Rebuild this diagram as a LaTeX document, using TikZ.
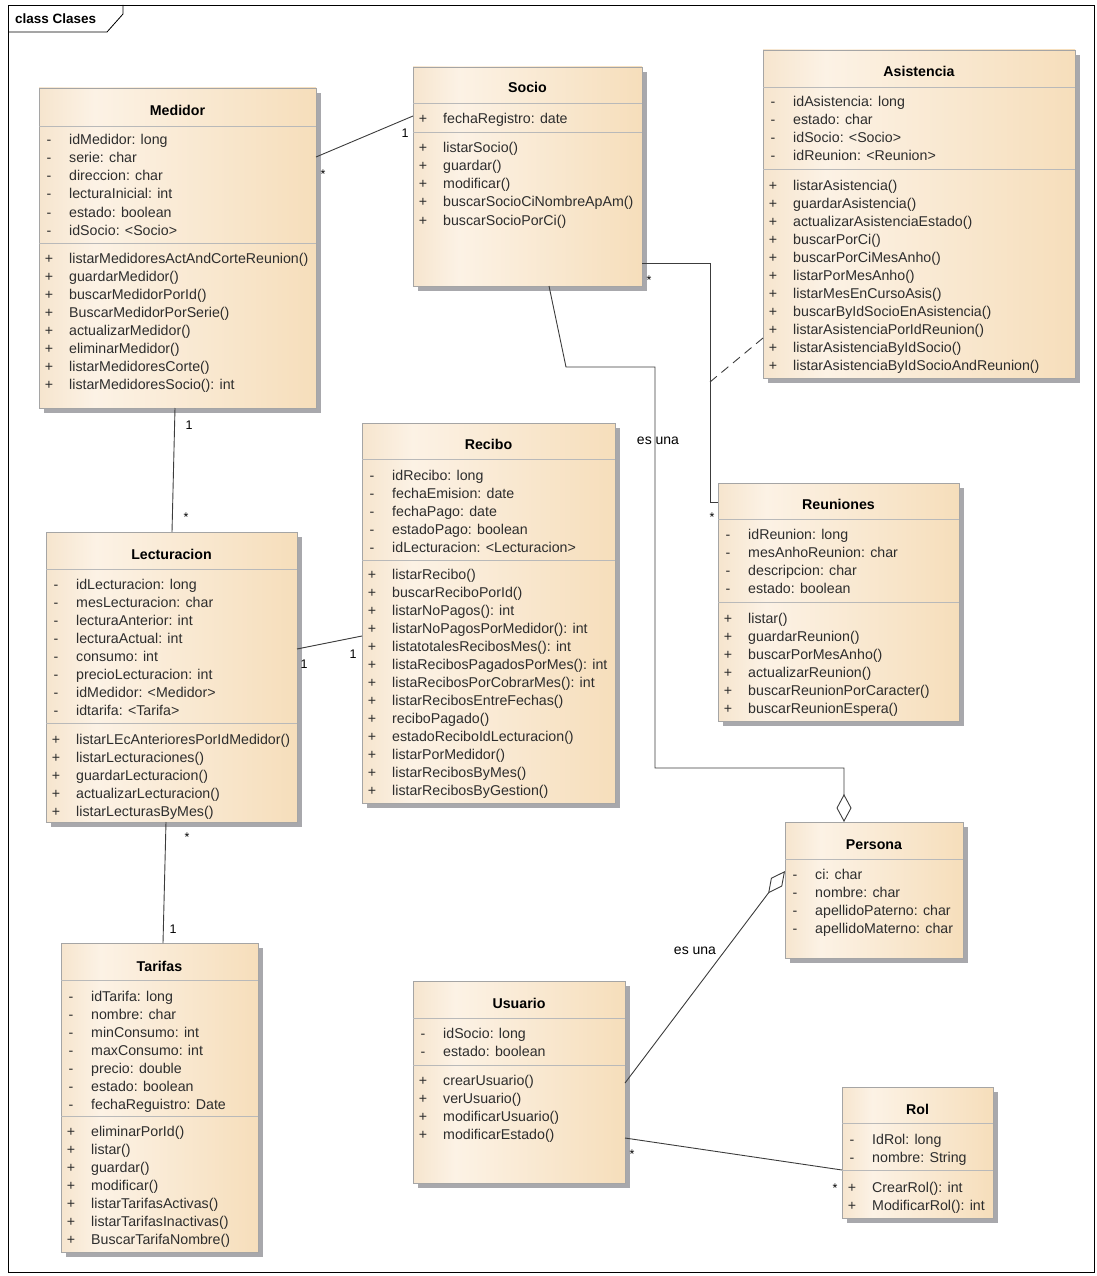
\documentclass[tikz,border=0pt]{standalone}
\usepackage{fontspec}
\setmainfont{Liberation Sans}
\usetikzlibrary{shadows,arrows.meta,calc}
\definecolor{ccL}{RGB}{246,229,206}
\definecolor{ccM}{RGB}{252,242,229}
\definecolor{ccR}{RGB}{246,222,187}
\definecolor{bordc}{RGB}{165,165,165}
\definecolor{divc}{RGB}{185,185,185}
\definecolor{shadc}{RGB}{168,168,172}
\definecolor{textc}{RGB}{45,45,45}
\definecolor{linec}{RGB}{60,60,60}
\pgfdeclarehorizontalshading{umlfill}{100bp}{color(0bp)=(ccL); color(25bp)=(ccL); color(35bp)=(ccM); color(75bp)=(ccR); color(100bp)=(ccR)}
\tikzset{
  classbox/.style={draw=bordc, line width=0.8pt, shading=umlfill, shading angle=0,
    anchor=north west, inner sep=0pt, outer sep=0pt,
    drop shadow={shadow xshift=5pt, shadow yshift=-5pt, fill=shadc, opacity=1}},
  divline/.style={draw=divc, line width=0.8pt},
  rowtext/.style={anchor=base west, inner sep=0pt, text=textc, font=\fontsize{14.2}{17}\selectfont},
  signtext/.style={anchor=base, inner sep=0pt, text=textc, font=\fontsize{14.2}{17}\selectfont},
  titletext/.style={anchor=base, inner sep=0pt, text=black, font=\bfseries\fontsize{14.2}{17}\selectfont},
  assoc/.style={draw=linec, line width=0.9pt},
  mult/.style={inner sep=0pt, text=black, font=\fontsize{12.5}{15}\selectfont},
  edgelabel/.style={inner sep=0pt, text=black, font=\fontsize{14}{17}\selectfont}
}
\newcommand{\umlrows}[4]{%
  \foreach \s/\t [count=\i, evaluate=\i as \yy using #3+18*(\i-1)] in {#4} {%
    \node[signtext] (#1-#2s\i) at ([xshift=10pt,yshift=-\yy pt]#1.north west) {\s};
    \node[rowtext] (#1-#2\i) at ([xshift=30pt,yshift=-\yy pt]#1.north west) {\t};
  }}
\newcommand{\umldiv}[2]{%
  \draw[divline] ([yshift=-#2pt]#1.north west) -- ([yshift=-#2pt]#1.north east);}
\begin{document}
\begin{tikzpicture}[x=1pt,y=-1pt]
\useasboundingbox (0,0) rectangle (1096,1276);
% frame
\draw[black, line width=0.8pt] (8,5) rectangle (1094,1272);
\draw[black, line width=0.8pt] (8,32) -- (107,32) -- (123,14) -- (123,5);
\node[anchor=west, inner sep=0pt, font=\bfseries\fontsize{13.5}{16}\selectfont] (frametitle) at (15,19) {class Clases};

% ---------- Medidor
\node[classbox, minimum width=277pt, minimum height=320pt] (medidor) at (39,88) {};
\umldiv{medidor}{38}\umldiv{medidor}{155}
\node[titletext] (medidor-title) at ([yshift=-28pt]medidor.north) {Medidor};
\umlrows{medidor}{a}{57}{-/idMedidor: long, -/serie: char, -/direccion: char, -/lecturaInicial: int, -/estado: boolean, -/idSocio: <Socio>}
\umlrows{medidor}{m}{175}{+/listarMedidoresActAndCorteReunion(), +/guardarMedidor(), +/buscarMedidorPorId(), +/BuscarMedidorPorSerie(), +/actualizarMedidor(), +/eliminarMedidor(), +/listarMedidoresCorte(), +/listarMedidoresSocio(): int}

% ---------- Socio
\node[classbox, minimum width=229pt, minimum height=219pt] (socio) at (413,67) {};
\umldiv{socio}{36}\umldiv{socio}{65}
\node[titletext] (socio-title) at ([yshift=-26pt]socio.north) {Socio};
\umlrows{socio}{a}{57}{+/fechaRegistro: date}
\umlrows{socio}{m}{86}{+/listarSocio(), +/guardar(), +/modificar(), +/buscarSocioCiNombreApAm(), +/buscarSocioPorCi()}

% ---------- Asistencia
\node[classbox, minimum width=312pt, minimum height=328pt] (asistencia) at (763,50) {};
\umldiv{asistencia}{37}\umldiv{asistencia}{119}
\node[titletext] (asistencia-title) at ([yshift=-27pt]asistencia.north) {Asistencia};
\umlrows{asistencia}{a}{57}{-/idAsistencia: long, -/estado: char, -/idSocio: <Socio>, -/idReunion: <Reunion>}
\umlrows{asistencia}{m}{140}{+/listarAsistencia(), +/guardarAsistencia(), +/actualizarAsistenciaEstado(), +/buscarPorCi(), +/buscarPorCiMesAnho(), +/listarPorMesAnho(), +/listarMesEnCursoAsis(), +/buscarByIdSocioEnAsistencia(), +/listarAsistenciaPorIdReunion(), +/listarAsistenciaByIdSocio(), +/listarAsistenciaByIdSocioAndReunion()}

% ---------- Lecturacion
\node[classbox, minimum width=251pt, minimum height=290pt] (lect) at (46,532) {};
\umldiv{lect}{37}\umldiv{lect}{191}
\node[titletext] (lect-title) at ([yshift=-27pt]lect.north) {Lecturacion};
\umlrows{lect}{a}{57}{-/idLecturacion: long, -/mesLecturacion: char, -/lecturaAnterior: int, -/lecturaActual: int, -/consumo: int, -/precioLecturacion: int, -/idMedidor: <Medidor>, -/idtarifa: <Tarifa>}
\umlrows{lect}{m}{212}{+/listarLEcAnterioresPorIdMedidor(), +/listarLecturaciones(), +/guardarLecturacion(), +/actualizarLecturacion(), +/listarLecturasByMes()}

% ---------- Recibo
\node[classbox, minimum width=253pt, minimum height=380pt] (recibo) at (362,423) {};
\umldiv{recibo}{36}\umldiv{recibo}{137}
\node[titletext] (recibo-title) at ([yshift=-26pt]recibo.north) {Recibo};
\umlrows{recibo}{a}{57}{-/idRecibo: long, -/fechaEmision: date, -/fechaPago: date, -/estadoPago: boolean, -/idLecturacion: <Lecturacion>}
\umlrows{recibo}{m}{156}{+/listarRecibo(), +/buscarReciboPorId(), +/listarNoPagos(): int, +/listarNoPagosPorMedidor(): int, +/listatotalesRecibosMes(): int, +/listaRecibosPagadosPorMes(): int, +/listaRecibosPorCobrarMes(): int, +/listarRecibosEntreFechas(), +/reciboPagado(), +/estadoReciboIdLecturacion(), +/listarPorMedidor(), +/listarRecibosByMes(), +/listarRecibosByGestion()}

% ---------- Reuniones
\node[classbox, minimum width=241pt, minimum height=238pt] (reun) at (718,483) {};
\umldiv{reun}{36}\umldiv{reun}{119}
\node[titletext] (reun-title) at ([yshift=-26pt]reun.north) {Reuniones};
\umlrows{reun}{a}{56}{-/idReunion: long, -/mesAnhoReunion: char, -/descripcion: char, -/estado: boolean}
\umlrows{reun}{m}{140}{+/listar(), +/guardarReunion(), +/buscarPorMesAnho(), +/actualizarReunion(), +/buscarReunionPorCaracter(), +/buscarReunionEspera()}

% ---------- Persona
\node[classbox, minimum width=178pt, minimum height=136pt] (persona) at (785,822) {};
\umldiv{persona}{37}
\node[titletext] (persona-title) at ([yshift=-27pt]persona.north) {Persona};
\umlrows{persona}{a}{57}{-/ci: char, -/nombre: char, -/apellidoPaterno: char, -/apellidoMaterno: char}

% ---------- Tarifas
\node[classbox, minimum width=197pt, minimum height=309pt] (tarifas) at (61,943) {};
\umldiv{tarifas}{37}\umldiv{tarifas}{173}
\node[titletext] (tarifas-title) at ([yshift=-28pt]tarifas.north) {Tarifas};
\umlrows{tarifas}{a}{58}{-/idTarifa: long, -/nombre: char, -/minConsumo: int, -/maxConsumo: int, -/precio: double, -/estado: boolean, -/fechaReguistro: Date}
\umlrows{tarifas}{m}{193}{+/eliminarPorId(), +/listar(), +/guardar(), +/modificar(), +/listarTarifasActivas(), +/listarTarifasInactivas(), +/BuscarTarifaNombre()}

% ---------- Usuario
\node[classbox, minimum width=212pt, minimum height=202pt] (usuario) at (413,981) {};
\umldiv{usuario}{37}\umldiv{usuario}{84}
\node[titletext] (usuario-title) at ([yshift=-27pt]usuario.north) {Usuario};
\umlrows{usuario}{a}{57}{-/idSocio: long, -/estado: boolean}
\umlrows{usuario}{m}{104}{+/crearUsuario(), +/verUsuario(), +/modificarUsuario(), +/modificarEstado()}

% ---------- Rol
\node[classbox, minimum width=151pt, minimum height=131pt] (rol) at (842,1087) {};
\umldiv{rol}{36}\umldiv{rol}{83}
\node[titletext] (rol-title) at ([yshift=-27pt]rol.north) {Rol};
\umlrows{rol}{a}{57}{-/IdRol: long, -/nombre: String}
\umlrows{rol}{m}{105}{+/CrearRol(): int, +/ModificarRol(): int}

% ---------- connectors
% Medidor - Socio
\draw[assoc] ([yshift=-69pt]medidor.north east) -- ([yshift=-49pt]socio.north west);
\node[mult] (m-ms1) at (323,174) {*};
\node[mult] (m-ms2) at (405,133) {1};
% Medidor - Lecturacion
\draw[assoc] ([xshift=-2.5pt]medidor.south) -- ([xshift=0.5pt]lect.north);
\node[mult] (m-ml1) at (189,425) {1};
\node[mult] (m-ml2) at (186,517) {*};
% Lecturacion - Recibo
\draw[assoc] ([yshift=-117pt]lect.north east) -- ([yshift=-213pt]recibo.north west);
\node[mult] (m-lr1) at (304,664) {1};
\node[mult] (m-lr2) at (353,654) {1};
% Lecturacion - Tarifas
\draw[assoc] ([xshift=-5.5pt]lect.south) -- ([xshift=3.5pt]tarifas.north);
\node[mult] (m-lt1) at (187,837) {*};
\node[mult] (m-lt2) at (173,929) {1};
% Socio - Reuniones
\draw[assoc] ([yshift=-196pt]socio.north east) -| ([xshift=-8pt,yshift=-19pt]reun.north west) -- ([yshift=-19pt]reun.north west);
\node[mult] (m-sr1) at (649,280) {*};
\node[mult] (m-sr2) at (712,517) {*};
% association class Asistencia (dashed)
\coordinate (acpt) at (710,382);
\draw[assoc, dash pattern=on 9pt off 6pt] ([yshift=-288pt]asistencia.north west) -- (acpt);
% Socio - Persona (aggregation)
\draw[assoc, -{Diamond[open, length=28pt, width=15pt, line width=0.9pt]}] ([xshift=21.5pt]socio.south) -- (566,367) -- (655,367) -- (655,768) -| ([xshift=-30pt]persona.north);
\node[edgelabel] (lbl-esuna1) at (658,441) {es una};
% Usuario - Persona (aggregation)
\draw[assoc, -{Diamond[open, length=28pt, width=14pt, line width=0.9pt]}] ([yshift=-102pt]usuario.north east) -- ([yshift=-49pt]persona.north west);
\node[edgelabel] (lbl-esuna2) at (695,951) {es una};
% Usuario - Rol
\draw[assoc] ([yshift=-157pt]usuario.north east) -- ([yshift=-83pt]rol.north west);
\node[mult] (m-ur1) at (632,1154) {*};
\node[mult] (m-ur2) at (835,1188) {*};
\end{tikzpicture}
\end{document}
